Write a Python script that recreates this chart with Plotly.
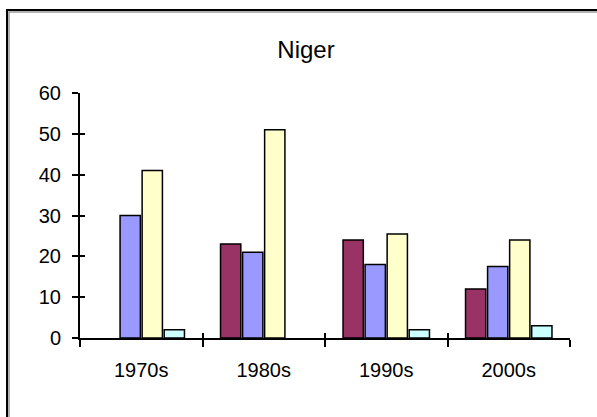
import plotly.graph_objects as go

# --- data --------------------------------------------------------------------
decades = ["1970s", "1980s", "1990s", "2000s"]
series_a = [None, 23, 24, 12]      # maroon
series_b = [30, 21, 18, 17.5]      # periwinkle
series_c = [41, 51, 25.5, 24]      # pale yellow
series_d = [2, None, 2, 3]         # pale cyan
y_ticks = [0, 10, 20, 30, 40, 50, 60]

# classic Excel palette
COLORS = ["#993366", "#9999FF", "#FFFFCC", "#CCFFFF"]
FONT = "Arial, Liberation Sans, sans-serif"

W, H = 597, 417
L, R, T, B = 80, 27, 93, 79
PW, PH = W - L - R, H - T - B

fig = go.Figure()
for vals, col, name in zip([series_a, series_b, series_c, series_d], COLORS, ["A", "B", "C", "D"]):
    fig.add_trace(go.Bar(
        x=decades, y=vals, name=name,
        marker=dict(color=col, line=dict(color="black", width=1.5)),
    ))

# invisible helper so the overlay axes draw the inside half of the cross ticks
fig.add_trace(go.Scatter(x=decades, y=[0, 0, 0, 0], xaxis="x2", yaxis="y2",
                         mode="markers", marker=dict(opacity=0), hoverinfo="skip",
                         showlegend=False))

fig.update_layout(
    width=W, height=H,
    margin=dict(l=L, r=R, t=T, b=B),
    paper_bgcolor="white", plot_bgcolor="white",
    font=dict(family=FONT, color="black", size=20),
    showlegend=False,
    barmode="group", bargap=0.28, bargroupgap=0.08,
    title=dict(text="Niger", x=306 / W, xanchor="center", xref="container",
               y=1 - 50 / H, yanchor="middle", yref="container",
               font=dict(family=FONT, size=24, color="black")),
    xaxis=dict(
        type="category", tickson="boundaries", ticks="outside", ticklen=7,
        tickwidth=1.5, tickcolor="black", showline=True, linecolor="black",
        linewidth=2, showgrid=False, zeroline=False, ticklabelstandoff=13,
        tickfont=dict(size=20),
    ),
    yaxis=dict(
        range=[0, 60], tickvals=y_ticks, ticks="outside", ticklen=6,
        tickwidth=1.5, tickcolor="black", showline=True, linecolor="black",
        linewidth=2, showgrid=False, zeroline=False, ticklabelstandoff=7,
        tickfont=dict(size=20),
    ),
    xaxis2=dict(
        type="category", overlaying="x", matches="x", tickson="boundaries",
        ticks="inside", ticklen=5, tickwidth=1.5, tickcolor="black",
        showticklabels=False, showline=False, showgrid=False, zeroline=False,
    ),
    yaxis2=dict(
        overlaying="y", range=[0, 60], tickvals=y_ticks, ticks="inside",
        ticklen=5, tickwidth=1.5, tickcolor="black", showticklabels=False,
        showline=False, showgrid=False, zeroline=False,
    ),
)

# chart-area frame (runs off the right and bottom of the picture)
def px_x(p):
    return (p - L) / PW

def px_y(p):
    return (H - B - p) / PH

fig.add_shape(type="rect", xref="paper", yref="paper",
              x0=px_x(9), x1=px_x(620), y0=px_y(440), y1=px_y(12),
              line=dict(color="#999999", width=1.5))
fig.add_shape(type="rect", xref="paper", yref="paper",
              x0=px_x(7), x1=px_x(620), y0=px_y(440), y1=px_y(10),
              line=dict(color="black", width=2))

# drop the page's default body margin so the figure sits at the window origin
fig.write_html("out.html", config={"displayModeBar": False},
               post_script="document.body.style.margin='0';")
